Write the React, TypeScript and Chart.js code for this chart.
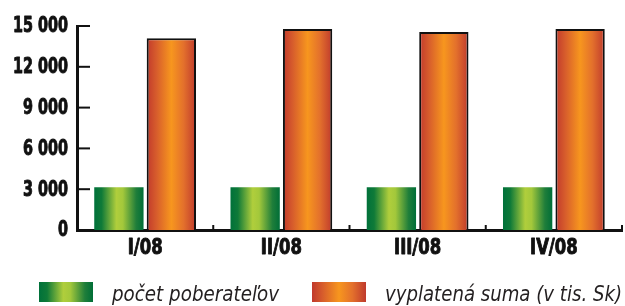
import React, { useEffect, useRef } from "react";
import { Chart, registerables } from "chart.js";

Chart.register(...registerables);

const categories = ["I/08", "II/08", "III/08", "IV/08"];
const recipients = [3140, 3140, 3140, 3140];
const payout = [14100, 14780, 14560, 14780];
const legendLabels = ["počet poberateľov", "vyplatená suma (v tis. Sk)"];
const yMax = 15000;
const yStep = 3000;

const CAT_PCT = 0.77;
const BAR_PCT = 0.94;
const FONT = "'Liberation Sans Narrow', 'DejaVu Sans Condensed', sans-serif";

const greenStops: [number, string][] = [
  [0, "#00713a"],
  [0.15, "#0f7a38"],
  [0.45, "#b0ce3c"],
  [0.58, "#a3c83b"],
  [0.85, "#1f7e3a"],
  [1, "#006e37"],
];
const orangeStops: [number, string][] = [
  [0, "#c1392c"],
  [0.2, "#d75d2c"],
  [0.5, "#f7961e"],
  [0.75, "#e3702c"],
  [1, "#bf3a2d"],
];

function makeGrad(c: CanvasRenderingContext2D, x0: number, x1: number, stops: [number, string][]) {
  const g = c.createLinearGradient(x0, 0, x1, 0);
  stops.forEach(([o, col]) => g.addColorStop(o, col));
  return g;
}

function barFill(context: any) {
  const chart = context.chart;
  const stops = context.datasetIndex === 0 ? greenStops : orangeStops;
  const xs = chart.scales?.x;
  if (!xs || !chart.chartArea) return stops[2][1];
  const center = xs.getPixelForValue(context.dataIndex);
  const cat = xs.width / categories.length;
  const slot = (cat * CAT_PCT) / 2;
  const w = slot * BAR_PCT;
  const c = center + (context.datasetIndex === 0 ? -slot / 2 : slot / 2);
  return makeGrad(chart.ctx, c - w / 2, c + w / 2, stops);
}

function fmt(v: number) {
  return String(v).replace(/\B(?=(\d{3})+(?!\d))/g, " ");
}

// draws horizontally condensed text
function condText(
  ctx: CanvasRenderingContext2D,
  text: string,
  x: number,
  y: number,
  sx: number,
  align: CanvasTextAlign,
  baseline: CanvasTextBaseline,
  heavy = false
) {
  ctx.save();
  ctx.translate(x, y);
  ctx.scale(sx, 1);
  ctx.textAlign = align;
  ctx.textBaseline = baseline;
  ctx.fillText(text, 0, 0);
  if (heavy) {
    ctx.strokeStyle = ctx.fillStyle as string;
    ctx.lineWidth = 0.9;
    ctx.lineJoin = "round";
    ctx.strokeText(text, 0, 0);
  }
  ctx.restore();
}

const axisExtras = {
  id: "axisExtras",
  afterDraw(chart: any) {
    const { ctx, chartArea, scales } = chart;
    const ys = scales.y;
    const xs = scales.x;
    ctx.save();
    ctx.strokeStyle = "#111";
    ctx.lineWidth = 2;
    ys.ticks.forEach((t: any) => {
      if (t.value === 0) return;
      const y = ys.getPixelForValue(t.value);
      ctx.beginPath();
      ctx.moveTo(chartArea.left, y);
      ctx.lineTo(chartArea.left + 13, y);
      ctx.stroke();
    });
    for (let i = 1; i <= categories.length; i++) {
      const x = xs.getPixelForValue(i - 0.5);
      ctx.beginPath();
      ctx.moveTo(x, chartArea.bottom);
      ctx.lineTo(x, chartArea.bottom - 5);
      ctx.stroke();
    }

    // y tick labels
    ctx.fillStyle = "#111111";
    ctx.font = `bold 21px ${FONT}`;
    const ySx = 55 / ctx.measureText(fmt(yMax)).width;
    ys.ticks.forEach((t: any) => {
      const y = ys.getPixelForValue(t.value);
      condText(ctx, fmt(t.value), chartArea.left - 9, y + 1, ySx, "right", "middle", true);
    });

    // x tick labels
    ctx.font = `bold 21px ${FONT}`;
    const xSx = 35 / ctx.measureText(categories[0]).width;
    categories.forEach((c, i) => {
      const x = xs.getPixelForValue(i);
      condText(ctx, c, x, chartArea.bottom + 24, xSx, "center", "alphabetic", true);
    });

    // legend
    const items = [
      { x: 39, tx: 112, w: 167, stops: greenStops, label: legendLabels[0] },
      { x: 312, tx: 385, w: 237, stops: orangeStops, label: legendLabels[1] },
    ];
    ctx.font = `italic 300 22px ${FONT}`;
    items.forEach((it) => {
      ctx.fillStyle = makeGrad(ctx, it.x, it.x + 54, it.stops);
      ctx.fillRect(it.x, 282, 54, 20);
      ctx.fillStyle = "#231f20";
      const sx = it.w / ctx.measureText(it.label).width;
      condText(ctx, it.label, it.tx, 301, sx, "left", "alphabetic");
    });
    ctx.restore();
  },
};

export default function App() {
  const ref = useRef<HTMLCanvasElement>(null);
  useEffect(() => {
    document.body.style.margin = "0";
    const chart = new Chart(ref.current!, {
      type: "bar",
      data: {
        labels: categories,
        datasets: [
          {
            label: legendLabels[0],
            data: recipients,
            backgroundColor: barFill,
            borderWidth: 0,
            categoryPercentage: CAT_PCT,
            barPercentage: BAR_PCT,
          },
          {
            label: legendLabels[1],
            data: payout,
            backgroundColor: barFill,
            borderColor: "#111111",
            borderWidth: 2,
            categoryPercentage: CAT_PCT,
            barPercentage: BAR_PCT,
          },
        ],
      },
      options: {
        responsive: false,
        animation: false,
        layout: { padding: { top: 26, right: 3, left: 0, bottom: 0 } },
        plugins: { legend: { display: false }, tooltip: { enabled: false } },
        scales: {
          x: {
            grid: { display: false, drawTicks: false },
            border: { display: true, color: "#111", width: 3 },
            ticks: { display: false },
            afterFit: (s: any) => {
              s.height = 76;
            },
          },
          y: {
            min: 0,
            max: yMax,
            grid: { display: false, drawTicks: false },
            border: { display: true, color: "#111", width: 3 },
            ticks: { display: false, stepSize: yStep },
            afterFit: (s: any) => {
              s.width = 77;
            },
          },
        },
      },
      plugins: [axisExtras],
    });
    return () => chart.destroy();
  }, []);
  return <canvas ref={ref} width={625} height={306} style={{ display: "block" }} />;
}
